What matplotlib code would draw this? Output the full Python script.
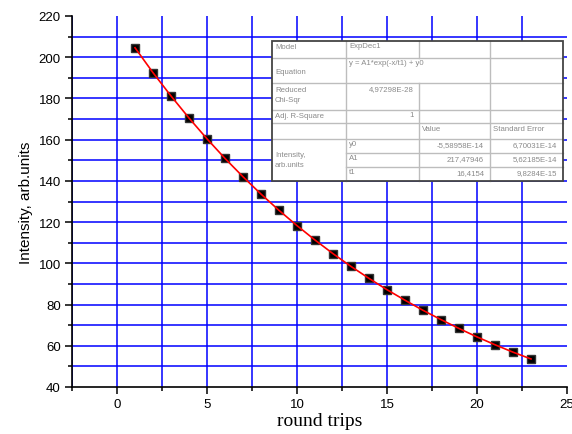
import matplotlib
matplotlib.use("Agg")
import matplotlib.pyplot as plt
from matplotlib.ticker import MultipleLocator
from matplotlib.lines import Line2D

# ---- data ----
round_trips = [1, 2, 3, 4, 5, 6, 7, 8, 9, 10, 11, 12, 13, 14, 15, 16, 17, 18, 19, 20, 21, 22, 23]
intensity = [204.6, 192.5, 181.2, 170.5, 160.4, 150.9, 142.0, 133.6, 125.7, 118.3, 111.3, 104.7,
             98.5, 92.7, 87.2, 82.1, 77.2, 72.7, 68.4, 64.3, 60.5, 56.9, 53.6]
fit_values = [204.6, 192.5, 181.2, 170.5, 160.4, 150.9, 142.0, 133.6, 125.7, 118.3, 111.3, 104.7,
              98.5, 92.7, 87.2, 82.1, 77.2, 72.7, 68.4, 64.3, 60.5, 56.9, 53.6]
x_ticks = [0, 5, 10, 15, 20, 25]
y_ticks = [40, 60, 80, 100, 120, 140, 160, 180, 200, 220]

table_rows = [
    ["Model", "ExpDec1", "", ""],
    ["Equation", "y = A1*exp(-x/t1) + y0", "", ""],
    ["Reduced\nChi-Sqr", "4,97298E-28", "", ""],
    ["Adj. R-Square", "1", "", ""],
    ["", "", "Value", "Standard Error"],
    ["Intensity,\narb.units", "y0", "-5,58958E-14", "6,70031E-14"],
    ["", "A1", "217,47946", "5,62185E-14"],
    ["", "t1", "16,4154", "9,8284E-15"],
]

W, H = 572, 435
fig = plt.figure(figsize=(W / 100, H / 100), dpi=100)
ax = fig.add_axes([72 / W, 1 - 388 / H, (567 - 72) / W, (388 - 17) / H])

ax.set_xlim(-2.5, 25)
ax.set_ylim(40, 220)
ax.xaxis.set_major_locator(MultipleLocator(5))
ax.xaxis.set_minor_locator(MultipleLocator(2.5))
ax.yaxis.set_major_locator(MultipleLocator(20))
ax.yaxis.set_minor_locator(MultipleLocator(10))
ax.set_xticks(x_ticks)
ax.set_yticks(y_ticks)

for s in ["top", "right"]:
    ax.spines[s].set_visible(False)
for s in ["left", "bottom"]:
    ax.spines[s].set_linewidth(1.2)
    ax.spines[s].set_color("black")

ax.tick_params(which="major", direction="out", length=5, width=1.1, labelsize=9.5,
               pad=3, colors="black")
ax.tick_params(which="minor", direction="out", length=3, width=1.1)

ax.grid(True, which="both", color="#0000ff", linewidth=1.1)
ax.set_axisbelow(True)
for gl, v in zip(ax.get_ygridlines(), ax.get_yticks()):
    if v >= 220 or v <= 40:
        gl.set_visible(False)
for gl, v in zip(ax.get_xgridlines(), ax.get_xticks()):
    if v >= 25:
        gl.set_visible(False)

ax.plot(round_trips, intensity, linestyle="none", marker="s", markersize=6,
        markerfacecolor="black", markeredgecolor="#333333", zorder=3)
ax.plot(round_trips, fit_values, color="#ff0000", linewidth=1.2, zorder=4)

for lab in ax.get_xticklabels() + ax.get_yticklabels():
    lab.set_family("Liberation Sans")

ax.set_ylabel("Intensity, arb.units", family="Liberation Sans", fontsize=11, labelpad=4)
ax.set_xlabel("round trips", family="Liberation Serif", fontsize=14, labelpad=1)

# ---- inset table (drawn in pixel coordinates) ----
ov = fig.add_axes([0, 0, 1, 1], facecolor="none")
ov.set_xlim(0, W)
ov.set_ylim(H, 0)
ov.axis("off")

cx = [272, 346, 419, 490, 563]
ry = [42, 59, 84, 111, 124, 140, 154, 168, 182]

ov.add_patch(plt.Rectangle((cx[0], ry[0]), cx[-1] - cx[0], ry[-1] - ry[0],
                           facecolor="white", edgecolor="none", zorder=5))
gray = "#bdbdbd"
lw = 1.0
# horizontal inner lines
for i in range(1, 8):
    if i in (6, 7):
        ov.plot([cx[1], cx[-1]], [ry[i], ry[i]], color=gray, lw=lw, zorder=6)
    else:
        ov.plot([cx[0], cx[-1]], [ry[i], ry[i]], color=gray, lw=lw, zorder=6)
# vertical inner lines
ov.plot([cx[1], cx[1]], [ry[0], ry[-1]], color=gray, lw=lw, zorder=6)
ov.plot([cx[2], cx[2]], [ry[0], ry[1]], color=gray, lw=lw, zorder=6)
ov.plot([cx[2], cx[2]], [ry[2], ry[-1]], color=gray, lw=lw, zorder=6)
ov.plot([cx[3], cx[3]], [ry[0], ry[-1]], color=gray, lw=lw, zorder=6)
# outer frame
ov.add_patch(plt.Rectangle((cx[0], ry[0]), cx[-1] - cx[0], ry[-1] - ry[0],
                           facecolor="none", edgecolor="#444444", lw=1.3, zorder=7))

tc = "#8a8a8a"
fs = 5.6
tf = "Liberation Sans"
def txt(x, y, s, ha="left", va="top"):
    ov.text(x, y, s, ha=ha, va=va, fontsize=fs, color=tc, family=tf, zorder=8,
            linespacing=1.6)

txt(cx[0] + 3, ry[0] + 2, table_rows[0][0])
txt(cx[1] + 3, ry[0] + 1, table_rows[0][1])
txt(cx[0] + 3, (ry[1] + ry[2]) / 2 + 1, table_rows[1][0], va="center")
txt(cx[1] + 3, ry[1] + 1, table_rows[1][1])
txt(cx[0] + 3, ry[2] + 3, table_rows[2][0])
txt(cx[2] - 5, ry[2] + 2, table_rows[2][1], ha="right")
txt(cx[0] + 3, ry[3] + 2, table_rows[3][0])
txt(cx[2] - 5, ry[3] + 1, table_rows[3][1], ha="right")
txt(cx[2] + 3, ry[4] + 2, table_rows[4][2])
txt(cx[3] + 3, ry[4] + 2, table_rows[4][3])
txt(cx[0] + 3, (ry[5] + ry[-1]) / 2, table_rows[5][0], va="center")
for i, r in enumerate(table_rows[5:8]):
    y = ry[5 + i] + 1
    txt(cx[1] + 3, y, r[1])
    txt(cx[3] - 6, y + 1, r[2], ha="right")
    txt(cx[4] - 6, y + 1, r[3], ha="right")

fig.savefig("out.png", dpi=100)
